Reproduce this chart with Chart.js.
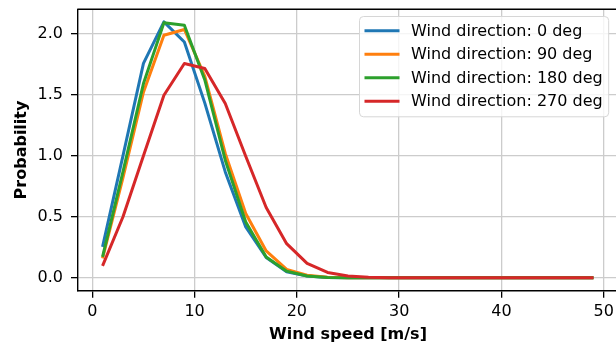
<!DOCTYPE html>
<html>
<head>
<meta charset="utf-8">
<script src="https://cdn.jsdelivr.net/npm/chart.js@4/dist/chart.umd.min.js"></script>
<style>
  html, body { margin: 0; padding: 0; background: #fff; overflow: hidden; }
  #wrap { width: 618px; height: 346px; }
</style>
</head>
<body>
<div id="wrap"><canvas id="windChart" width="618" height="346"></canvas></div>
<script>
// Wind speed bins [m/s]
const windSpeeds = [1, 3, 5, 7, 9, 11, 13, 15, 17, 19, 21, 23, 25, 27, 29, 31, 33, 35, 37, 39, 41, 43, 45, 47, 49];

// Probability per wind direction
const dir0   = [0.254, 1.00, 1.755, 2.095, 1.93, 1.43, 0.867, 0.417, 0.167, 0.050, 0.015, 0.004, 0.001, 0.0003, 0, 0, 0, 0, 0, 0, 0, 0, 0, 0, 0];
const dir90  = [0.159, 0.82, 1.52, 1.986, 2.033, 1.65, 1.018, 0.527, 0.220, 0.069, 0.022, 0.006, 0.0015, 0.0004, 0, 0, 0, 0, 0, 0, 0, 0, 0, 0, 0];
const dir180 = [0.172, 0.87, 1.59, 2.087, 2.068, 1.62, 0.963, 0.458, 0.170, 0.055, 0.016, 0.004, 0.001, 0.0002, 0, 0, 0, 0, 0, 0, 0, 0, 0, 0, 0];
const dir270 = [0.098, 0.50, 1.00, 1.495, 1.754, 1.714, 1.427, 0.995, 0.576, 0.280, 0.118, 0.044, 0.016, 0.005, 0.0015, 0.0004, 0, 0, 0, 0, 0, 0, 0, 0, 0];

const seriesLabels = ['Wind direction: 0 deg', 'Wind direction: 90 deg', 'Wind direction: 180 deg', 'Wind direction: 270 deg'];
const seriesColors = ['#1f77b4', '#ff7f0e', '#2ca02c', '#d62728'];

const xTicks = [0, 10, 20, 30, 40, 50];
const yTicks = [0, 0.5, 1.0, 1.5, 2.0];

const FONT = "'DejaVu Sans', sans-serif";
const INK = '#000000';
const LINE_W = 3;

function toPoints(values) {
    return windSpeeds.map((x, i) => ({ x: x, y: values[i] }));
}

// Top spine (the chart only draws bottom/left axis lines)
const topSpine = {
    id: 'topSpine',
    afterDatasetsDraw(chart) {
        const { ctx, chartArea } = chart;
        ctx.save();
        ctx.strokeStyle = INK;
        ctx.lineWidth = 1.4;
        ctx.beginPath();
        ctx.moveTo(chartArea.left - 0.7, chartArea.top);
        ctx.lineTo(chartArea.right, chartArea.top);
        ctx.stroke();
        ctx.restore();
    }
};

// Legend box in the upper right corner of the plot
const boxLegend = {
    id: 'boxLegend',
    afterDraw(chart) {
        const { ctx } = chart;
        const sets = chart.data.datasets;
        ctx.save();
        ctx.font = '16px ' + FONT;
        const textW = Math.max(...sets.map(d => ctx.measureText(d.label).width));
        const left = 359.5, top = 16.5;
        const lineX0 = left + 5, lineX1 = left + 40, textX = left + 51.5;
        const rowH = 23.5, firstRow = 14.3;
        const w = textX - left + textW + 6;
        const h = firstRow + rowH * (sets.length - 1) + 15.5;

        ctx.beginPath();
        ctx.roundRect(left, top, w, h, 4);
        ctx.fillStyle = 'rgba(255,255,255,0.8)';
        ctx.fill();
        ctx.strokeStyle = '#d6d6d6';
        ctx.lineWidth = 1;
        ctx.stroke();

        sets.forEach((d, i) => {
            const y = top + firstRow + i * rowH;
            ctx.strokeStyle = d.borderColor;
            ctx.lineWidth = LINE_W;
            ctx.beginPath();
            ctx.moveTo(lineX0, y);
            ctx.lineTo(lineX1, y);
            ctx.stroke();
            ctx.fillStyle = INK;
            ctx.textBaseline = 'middle';
            ctx.textAlign = 'left';
            ctx.fillText(d.label, textX, y + 1);
        });
        ctx.restore();
    }
};

const datasets = [dir0, dir90, dir180, dir270].map((vals, i) => ({
    label: seriesLabels[i],
    data: toPoints(vals),
    borderColor: seriesColors[i],
    backgroundColor: seriesColors[i],
    borderWidth: LINE_W,
    pointRadius: 0,
    tension: 0,
    borderJoinStyle: 'round',
    order: 4 - i
}));

const ctx = document.getElementById('windChart').getContext('2d');
new Chart(ctx, {
    type: 'line',
    data: { datasets: datasets },
    options: {
        responsive: false,
        animation: false,
        layout: { padding: { top: 9.3, right: 0, bottom: 0, left: 0 } },
        plugins: {
            legend: { display: false },
            tooltip: { enabled: false }
        },
        scales: {
            x: {
                type: 'linear',
                min: -1.4,
                max: 51.4,
                afterBuildTicks: s => { s.ticks = xTicks.map(v => ({ value: v })); },
                afterFit: s => { s.height = 55.3; s.paddingLeft = 0; s.paddingRight = 0; },
                grid: { color: '#cccccc', lineWidth: 1.3, tickLength: 7, tickColor: INK, tickWidth: 1.3 },
                border: { color: INK, width: 1.4 },
                ticks: {
                    color: INK,
                    padding: 5,
                    maxRotation: 0,
                    font: { family: FONT, size: 16 },
                    callback: v => String(v)
                },
                title: {
                    display: true,
                    text: 'Wind speed [m/s]',
                    color: INK,
                    font: { family: FONT, size: 16, weight: 'bold' },
                    padding: { top: 0, bottom: 1.4 }
                }
            },
            y: {
                type: 'linear',
                min: -0.105,
                max: 2.198,
                afterBuildTicks: s => { s.ticks = yTicks.map(v => ({ value: v })); },
                afterFit: s => { s.width = 78; s.paddingTop = 0; s.paddingBottom = 0; },
                grid: { color: '#cccccc', lineWidth: 1.3, tickLength: 7, tickColor: INK, tickWidth: 1.3 },
                border: { color: INK, width: 1.4 },
                ticks: {
                    color: INK,
                    padding: 8,
                    font: { family: FONT, size: 16 },
                    callback: v => v.toFixed(1)
                },
                title: {
                    display: true,
                    text: 'Probability',
                    color: INK,
                    font: { family: FONT, size: 16, weight: 'bold' },
                    padding: { top: 12.1, bottom: 0 }
                }
            }
        }
    },
    plugins: [topSpine, boxLegend]
});
</script>
</body>
</html>
